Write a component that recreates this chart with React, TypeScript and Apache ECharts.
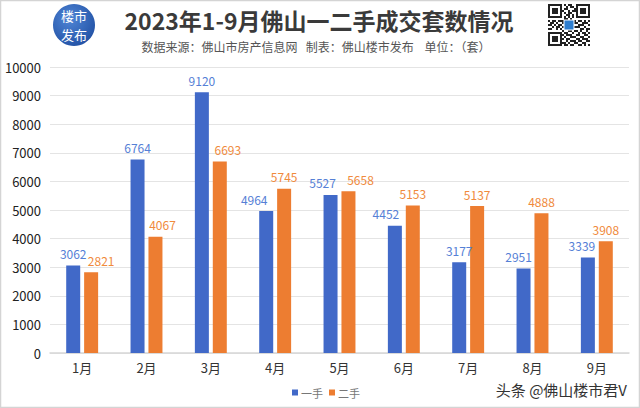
import React, { useEffect, useRef } from "react";
import * as echarts from "echarts";

const months = ["1月", "2月", "3月", "4月", "5月", "6月", "7月", "8月", "9月"];
const firstHand = [3062, 6764, 9120, 4964, 5527, 4452, 3177, 2951, 3339];
const secondHand = [2821, 4067, 6693, 5745, 5658, 5153, 5137, 4888, 3908];
const seriesNames = ["一手", "二手"];
const titleText = "2023年1-9月佛山一二手成交套数情况";
const subtitleText = "数据来源：佛山市房产信息网   制表：佛山楼市发布    单位：（套）";
const watermark = "头条 @佛山楼市君V";

// horizontal nudges of the value labels (layout only, as placed in the original)
const firstLabelNudge = [0, 0, 0, -12, -8, -9, 0, -5, -6];
const secondLabelNudge = [10, 7, 8, 0, 12, 0, 0, 0, 0];

const qrRows = [
  "111111101011001111111",
  "100000100101101000001",
  "101110101100011011101",
  "101110110010111011101",
  "101110101011001011101",
  "100000100110101000001",
  "111111101010101111111",
  "000000001101000000000",
  "101101110010110110101",
  "011010011010011001110",
  "110101100101100111001",
  "001011010110011100100",
  "110010101101100011011",
  "000000010011011010010",
  "111111101100100101101",
  "100000110111001100110",
  "101110101001110011001",
  "101110110110001101110",
  "101110100101110110011",
  "100000111010011001100",
  "111111101101100110101",
];

const FONT = "'Noto Sans CJK SC', 'Noto Sans', sans-serif";

export default function App() {
  const ref = useRef<HTMLDivElement>(null);
  useEffect(() => {
    if (!ref.current) return;
    const chart = echarts.init(ref.current, null, { renderer: "svg" });

    const qrCell = 2;
    const qrX = 548;
    const qrY = 4;
    const qrRects: any[] = [];
    qrRows.forEach((row, r) => {
      for (let c = 0; c < row.length; c++) {
        if (row[c] === "1") {
          qrRects.push({
            type: "rect",
            shape: { x: qrX + c * qrCell, y: qrY + r * qrCell, width: qrCell, height: qrCell },
            style: { fill: "#222" },
          });
        }
      }
    });
    qrRects.push({
      type: "rect",
      shape: { x: qrX + 8 * qrCell, y: qrY + 8 * qrCell, width: 5 * qrCell, height: 5 * qrCell },
      style: { fill: "#2f7fd0", stroke: "#fff", lineWidth: 1 },
    });

    const labelCommon = { show: true, position: "top", fontSize: 12, distance: 6 };

    chart.setOption({
      animation: false,
      backgroundColor: "#fff",
      textStyle: { fontFamily: FONT },
      color: ["#4169c8", "#ed7d31"],
      graphic: [
        {
          type: "rect",
          shape: { x: 0.5, y: 0.5, width: 639, height: 407 },
          style: { fill: "none", stroke: "#d4d4d4", lineWidth: 1.5 },
          silent: true,
        },
        {
          type: "circle",
          shape: { cx: 74, cy: 25, r: 21 },
          style: {
            fill: new echarts.graphic.RadialGradient(0.4, 0.35, 0.8, [
              { offset: 0, color: "#4f86d6" },
              { offset: 1, color: "#1c4a9e" },
            ]),
          },
        },
        {
          type: "text",
          x: 74,
          y: 15.5,
          style: { text: "楼市", fill: "#fff", font: `13px ${FONT}`, lineHeight: 13, align: "center", verticalAlign: "middle" },
        },
        {
          type: "text",
          x: 74,
          y: 34.5,
          style: { text: "发布", fill: "#fff", font: `13px ${FONT}`, lineHeight: 13, align: "center", verticalAlign: "middle" },
        },
        {
          type: "text",
          x: 319,
          y: 20,
          style: { text: titleText, fill: "#3a3a3a", font: `bold 23px ${FONT}`, lineHeight: 23, align: "center", verticalAlign: "middle" },
        },
        {
          type: "text",
          x: 316,
          y: 46,
          style: { text: subtitleText, fill: "#555", font: `12px ${FONT}`, lineHeight: 12, align: "center", verticalAlign: "middle" },
        },
        ...qrRects,
        {
          type: "text",
          x: 627,
          y: 389,
          style: { text: watermark, fill: "#333", font: `15px ${FONT}`, align: "right", verticalAlign: "middle" },
        },
      ],
      legend: {
        data: seriesNames,
        left: 287,
        top: 382,
        icon: "rect",
        itemWidth: 6,
        itemHeight: 6,
        itemGap: 6,
        textStyle: { fontSize: 11, color: "#777", padding: [0, 0, 0, -2] },
      },
      grid: { left: 50, right: 11, top: 67, bottom: 55 },
      xAxis: {
        type: "category",
        data: months,
        axisLine: { lineStyle: { color: "#d6d6d6", width: 1.5 } },
        axisTick: { show: false },
        axisLabel: { color: "#333", fontSize: 13, margin: 8 },
      },
      yAxis: {
        type: "value",
        min: 0,
        max: 10000,
        interval: 1000,
        axisLine: { show: false },
        axisTick: { show: false },
        axisLabel: { color: "#222", fontSize: 13, margin: 9, formatter: (v: number) => String(v) },
        splitLine: { lineStyle: { color: "#e4e4e4" } },
      },
      series: [
        {
          name: seriesNames[0],
          type: "bar",
          data: firstHand,
          barWidth: 14,
          barGap: "28%",
          itemStyle: { color: "#4169c8" },
          label: { ...labelCommon, color: "#5580d6" },
          labelLayout: (p: any) => ({ dx: firstLabelNudge[p.dataIndex] || 0 }),
        },
        {
          name: seriesNames[1],
          type: "bar",
          data: secondHand,
          barWidth: 14,
          itemStyle: { color: "#ed7d31" },
          label: { ...labelCommon, color: "#f08a3c" },
          labelLayout: (p: any) => ({ dx: secondLabelNudge[p.dataIndex] || 0 }),
        },
      ],
    });
    return () => chart.dispose();
  }, []);
  return <div ref={ref} style={{ position: "fixed", left: 0, top: 0, width: 640, height: 408 }} />;
}
